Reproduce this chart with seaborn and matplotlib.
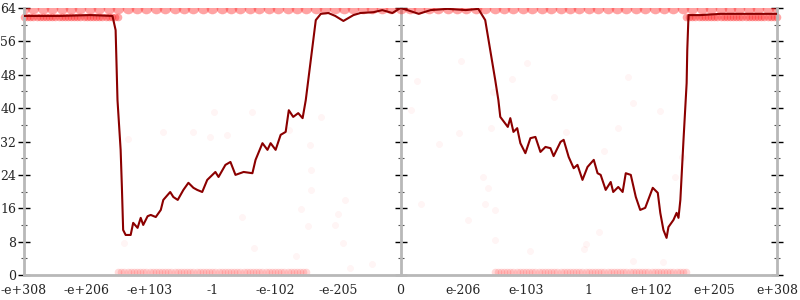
import matplotlib
matplotlib.use("Agg")
import matplotlib.pyplot as plt
import seaborn as sns
from matplotlib.ticker import MultipleLocator, FixedLocator

# ---------------- data ----------------
tick_pos = [-6, -5, -4, -3, -2, -1, 0, 1, 2, 3, 4, 5, 6]
tick_labels = ["-e+308", "-e+206", "-e+103", "-1", "-e-102", "-e-205", "0",
               "e-206", "e-103", "1", "e+102", "e+205", "e+308"]
y_ticks = [0, 8, 16, 24, 32, 40, 48, 56, 64]

line_x = [-6.00, -5.42, -4.94, -4.59, -4.54, -4.51, -4.46, -4.44, -4.42, -4.38,
          -4.30, -4.26, -4.19, -4.14, -4.10, -4.03, -3.98, -3.90, -3.82, -3.78,
          -3.67, -3.62, -3.55, -3.46, -3.38, -3.30, -3.24, -3.16, -3.08, -2.95,
          -2.90, -2.79, -2.71, -2.63, -2.50, -2.36, -2.31, -2.20, -2.12, -2.07,
          -1.99, -1.91, -1.83, -1.78, -1.71, -1.63, -1.56, -1.51, -1.43, -1.35,
          -1.27, -1.15, -1.04, -0.91, -0.75, -0.64, -0.43, -0.29, -0.13, 0.00,
          0.11, 0.29, 0.48, 0.75, 1.04, 1.24, 1.35, 1.43, 1.51, 1.56,
          1.59, 1.71, 1.75, 1.80, 1.86, 1.91, 1.99, 2.07, 2.15, 2.23,
          2.31, 2.39, 2.44, 2.55, 2.60, 2.68, 2.76, 2.82, 2.90, 2.98,
          3.08, 3.14, 3.19, 3.27, 3.35, 3.39, 3.47, 3.54, 3.59, 3.67,
          3.75, 3.82, 3.90, 4.02, 4.10, 4.14, 4.19, 4.24, 4.27, 4.35,
          4.40, 4.43, 4.46, 4.51, 4.56, 4.57, 4.59, 4.78, 5.10, 5.42, 6.00]
line_y = [62.1, 62.1, 62.3, 62.1, 58.7, 41.9, 30.0, 21.1, 10.8, 9.6,
          9.6, 12.5, 11.3, 13.7, 12.0, 14.1, 14.4, 13.9, 15.6, 18.0,
          19.9, 18.7, 18.0, 20.4, 22.1, 20.9, 20.4, 19.9, 22.8, 24.7,
          23.5, 26.4, 27.1, 24.0, 24.7, 24.4, 27.6, 31.6, 30.0, 31.6,
          30.0, 33.6, 34.3, 39.5, 37.9, 38.8, 37.6, 41.9, 51.5, 61.1,
          62.6, 62.8, 62.1, 60.9, 62.3, 62.8, 63.0, 63.5, 62.8, 64.0,
          63.5, 62.6, 63.5, 63.8, 63.5, 63.8, 61.1, 53.9, 46.7, 41.9,
          37.9, 35.5, 37.6, 34.3, 35.2, 31.6, 29.2, 32.8, 33.1, 29.5,
          30.7, 30.4, 28.5, 31.9, 32.4, 28.3, 25.6, 26.4, 22.8, 25.9,
          27.6, 24.4, 24.0, 20.4, 22.3, 19.9, 21.1, 19.9, 24.4, 24.0,
          18.7, 15.6, 16.1, 20.9, 19.7, 14.9, 10.8, 8.9, 11.5, 13.2,
          14.9, 13.7, 18.0, 32.4, 46.0, 53.9, 62.3, 62.3, 62.6, 62.6, 62.6]

# dense bands of samples
top_band_x = [-6.00, -5.85, -5.70, -5.55, -5.40, -5.25, -5.10, -4.95, -4.80, -4.65,
              -4.50, -4.35, -4.20, -4.05, -3.90, -3.75, -3.60, -3.45, -3.30, -3.15,
              -3.00, -2.85, -2.70, -2.55, -2.40, -2.25, -2.10, -1.95, -1.80, -1.65,
              -1.50, -1.35, -1.20, -1.05, -0.90, -0.75, -0.60, -0.45, -0.30, -0.15,
              0.00, 0.15, 0.30, 0.45, 0.60, 0.75, 0.90, 1.05, 1.20, 1.35,
              1.50, 1.65, 1.80, 1.95, 2.10, 2.25, 2.40, 2.55, 2.70, 2.85,
              3.00, 3.15, 3.30, 3.45, 3.60, 3.75, 3.90, 4.05, 4.20, 4.35,
              4.50, 4.65, 4.80, 4.95, 5.10, 5.25, 5.40, 5.55, 5.70, 5.85, 6.00]
top_band_y = 64.0

left_hi_x = [-6.00, -5.95, -5.90, -5.85, -5.80, -5.75, -5.70, -5.65, -5.60, -5.55,
             -5.50, -5.45, -5.40, -5.35, -5.30, -5.25, -5.20, -5.15, -5.10, -5.05,
             -5.00, -4.95, -4.90, -4.85, -4.80, -4.75, -4.70, -4.65, -4.60, -4.55,
             -4.50]
right_hi_x = [4.55, 4.60, 4.65, 4.70, 4.75, 4.80, 4.85, 4.90, 4.95, 5.00,
              5.05, 5.10, 5.15, 5.20, 5.25, 5.30, 5.35, 5.40, 5.45, 5.50,
              5.55, 5.60, 5.65, 5.70, 5.75, 5.80, 5.85, 5.90, 5.95, 6.00]
hi_band_y = 61.9

left_lo_x = [-4.50, -4.45, -4.40, -4.35, -4.30, -4.25, -4.20, -4.15, -4.10, -4.05,
             -4.00, -3.95, -3.90, -3.85, -3.80, -3.75, -3.70, -3.65, -3.60, -3.55,
             -3.50, -3.45, -3.40, -3.35, -3.30, -3.25, -3.20, -3.15, -3.10, -3.05,
             -3.00, -2.95, -2.90, -2.85, -2.80, -2.75, -2.70, -2.65, -2.60, -2.55,
             -2.50, -2.45, -2.40, -2.35, -2.30, -2.25, -2.20, -2.15, -2.10, -2.05,
             -2.00, -1.95, -1.90, -1.85, -1.80, -1.75, -1.70, -1.65, -1.60, -1.55,
             -1.50]
right_lo_x = [1.50, 1.55, 1.60, 1.65, 1.70, 1.75, 1.80, 1.85, 1.90, 1.95,
              2.00, 2.05, 2.10, 2.15, 2.20, 2.25, 2.30, 2.35, 2.40, 2.45,
              2.50, 2.55, 2.60, 2.65, 2.70, 2.75, 2.80, 2.85, 2.90, 2.95,
              3.00, 3.05, 3.10, 3.15, 3.20, 3.25, 3.30, 3.35, 3.40, 3.45,
              3.50, 3.55, 3.60, 3.65, 3.70, 3.75, 3.80, 3.85, 3.90, 3.95,
              4.00, 4.05, 4.10, 4.15, 4.20, 4.25, 4.30, 4.35, 4.40, 4.45,
              4.50, 4.55]
lo_band_y = 0.8

# sparse outlier samples
sparse_x = [-4.35, -3.78, -3.30, -3.03, -2.77, -2.98, -2.36, -1.78, -1.27, -1.45,
            -1.43, -1.43, -1.48, -1.59, -2.52, -2.34, -1.67, -4.41, -1.04, -0.99,
            -0.92, -0.81, -0.45, -0.88, 0.27, 0.16, 0.96, 1.47, 1.45, 0.94,
            0.61, 1.32, 1.39, 1.35, 1.50, 0.33, 1.08, 2.02, 1.77, 2.44,
            2.63, 3.62, 3.70, 3.46, 3.24, 4.14, 4.49, 4.37, 3.16, 2.95,
            2.07, 2.92, 3.70, 4.19, 1.50]
sparse_y = [32.6, 34.3, 34.3, 33.1, 33.6, 39.1, 39.1, 34.8, 37.9, 31.2,
            25.2, 20.4, 11.7, 15.8, 13.9, 6.5, 4.6, 7.7, 12.0, 14.6,
            7.7, 1.7, 2.6, 18.0, 46.5, 39.5, 51.3, 43.9, 35.2, 34.0,
            31.4, 23.5, 20.9, 17.0, 15.6, 17.0, 13.2, 50.8, 47.0, 42.7,
            34.3, 47.5, 41.2, 35.2, 29.7, 39.3, 28.3, 23.5, 10.3, 7.4,
            5.8, 6.2, 3.4, 3.1, 8.4]

# ---------------- plot ----------------
sns.set_style("white")
plt.rcParams['font.family'] = ['DejaVu Serif']

fig = plt.figure(figsize=(8, 3), dpi=100)
ax = fig.add_axes([0.03, 0.0833, 0.94125, 0.89])

red = "#ff1a1a"
sc_kw = dict(color=red, linewidth=0, ax=ax, legend=False)
sns.scatterplot(x=sparse_x, y=sparse_y, alpha=0.045, s=25, **sc_kw)
sns.scatterplot(x=top_band_x, y=[top_band_y] * len(top_band_x), alpha=0.4,
                s=70, clip_on=True, **sc_kw)
sns.scatterplot(x=left_hi_x, y=[hi_band_y] * len(left_hi_x), alpha=0.38,
                s=30, clip_on=False, **sc_kw)
sns.scatterplot(x=right_hi_x, y=[hi_band_y] * len(right_hi_x), alpha=0.38,
                s=30, clip_on=False, **sc_kw)
sns.scatterplot(x=left_lo_x, y=[lo_band_y] * len(left_lo_x), alpha=0.16,
                s=30, clip_on=False, **sc_kw)
sns.scatterplot(x=right_lo_x, y=[lo_band_y] * len(right_lo_x), alpha=0.16,
                s=30, clip_on=False, **sc_kw)

sns.lineplot(x=line_x, y=line_y, sort=False, estimator=None, color="#8b0000",
             linewidth=1.5, ax=ax, zorder=5)

ax.set_xlim(-6, 6)
ax.set_ylim(0, 64)
ax.xaxis.set_major_locator(FixedLocator(tick_pos))
ax.set_xticklabels(tick_labels)
ax.yaxis.set_major_locator(FixedLocator(y_ticks))
ax.yaxis.set_minor_locator(MultipleLocator(4))

spine_col = "#b8b8b8"
for s in ax.spines.values():
    s.set_color(spine_col)
    s.set_linewidth(2)
ax.spines['top'].set_visible(False)

ax.tick_params(axis='x', which='major', direction='inout', length=9,
               width=1, color='black', labelsize=9, pad=2)
ax.tick_params(axis='y', which='major', direction='inout', length=9,
               width=1, color='black', labelsize=9, pad=1)
ax.tick_params(axis='y', which='both', right=True, left=True, labelright=False)
ax.tick_params(axis='y', which='minor', direction='inout', length=5,
               width=0.8, color='#555555')
ax.tick_params(axis='x', which='minor', bottom=False)

sec = ax.secondary_yaxis(0.5)
sec.yaxis.set_major_locator(FixedLocator(y_ticks))
sec.yaxis.set_minor_locator(MultipleLocator(4))
sec.tick_params(axis='y', which='major', direction='inout', length=9, width=1,
                color='black', labelleft=False, labelright=False)
sec.tick_params(axis='y', which='minor', direction='inout', length=5, width=0.8,
                color='#555555')
for s in sec.spines.values():
    s.set_color(spine_col)
    s.set_linewidth(2)

ax.set_xlabel("")
ax.set_ylabel("")
fig.savefig("out.png", dpi=100)
